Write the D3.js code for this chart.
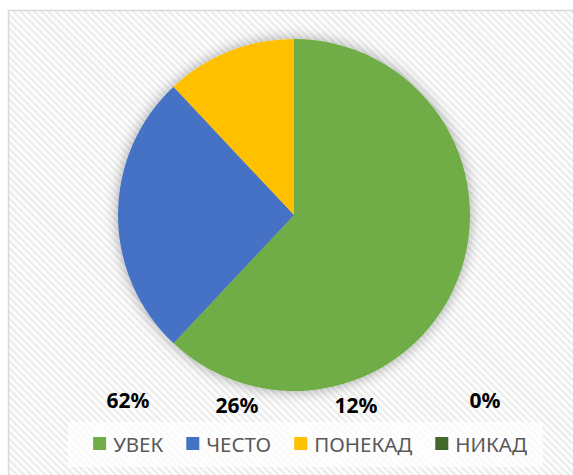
<!DOCTYPE html>
<html>
<head>
<meta charset="utf-8">
<script src="https://cdn.jsdelivr.net/npm/d3@7"></script>
<style>
  body { margin: 0; background: #fff; }
</style>
</head>
<body>
<svg id="pie_chart" width="573" height="475"></svg>
<script>
// data
const categories = ["УВЕК", "ЧЕСТО", "ПОНЕКАД", "НИКАД"];
const values = [62, 26, 12, 0];
const colors = ["#70ad47", "#4472c4", "#ffc000", "#43682b"];
// where the (hand placed) data labels sit
const labelX = [128, 237, 356, 485];
const labelY = [408, 413, 413, 408];

let svg = d3.select("#pie_chart");
let defs = svg.append("defs");

// light diagonal stripes of the chart area
let pat = defs.append("pattern").attr("id", "stripes")
  .attr("patternUnits", "userSpaceOnUse").attr("width", 5).attr("height", 5)
  .attr("patternTransform", "rotate(-45)");
pat.append("rect").attr("width", 5).attr("height", 5).attr("fill", "#ffffff");
pat.append("rect").attr("width", 2.5).attr("height", 5).attr("fill", "#ececec");

let glow = defs.append("filter").attr("id", "glow")
  .attr("x", "-20%").attr("y", "-20%").attr("width", "140%").attr("height", "140%");
glow.append("feGaussianBlur").attr("in", "SourceAlpha").attr("stdDeviation", 7).attr("result", "b");
glow.append("feComponentTransfer").attr("in", "b").attr("result", "s")
  .append("feFuncA").attr("type", "linear").attr("slope", 0.35);
let mg = glow.append("feMerge");
mg.append("feMergeNode").attr("in", "s");
mg.append("feMergeNode").attr("in", "SourceGraphic");

// chart area (cropped at right and bottom)
svg.append("rect").attr("x", 8.5).attr("y", 10.5).attr("width", 600).attr("height", 500)
  .attr("fill", "url(#stripes)").attr("stroke", "#d9d9d9").attr("stroke-width", 1.5);

let data = categories.map((c, i) => ({name: c, value: values[i], color: colors[i]}));
let pie = d3.pie().value(d => d.value).sort(null)(data);
let arcMkr = d3.arc().innerRadius(0).outerRadius(176);

let g = svg.append("g").attr("transform", "translate(294, 215)");
g.append("g").attr("filter", "url(#glow)")
  .selectAll("path").data(pie.filter(d => d.data.value > 0)).enter().append("path")
  .attr("d", arcMkr).attr("fill", d => d.data.color);

// data labels
svg.selectAll("text.lbl").data(pie).enter().append("text").attr("class", "lbl")
  .text(d => d3.format(".0%")(d.data.value / d3.sum(values)))
  .attr("x", (d, i) => labelX[i]).attr("y", (d, i) => labelY[i])
  .attr("font-family", "Noto Sans").attr("font-weight", "bold").attr("font-size", 21)
  .attr("text-anchor", "middle").attr("fill", "#000");

// legend
svg.append("rect").attr("x", 68).attr("y", 422).attr("width", 475).attr("height", 45)
  .attr("fill", "#fff").attr("opacity", 0.75);
let leg = svg.append("g");
let x = 0;
data.forEach(d => {
  let item = leg.append("g").attr("transform", `translate(${x},0)`);
  item.append("rect").attr("x", 0).attr("y", -7).attr("width", 13).attr("height", 13).attr("fill", d.color);
  let t = item.append("text").text(d.name).attr("x", 20).attr("y", 7.5)
    .attr("font-family", "Noto Sans").attr("font-size", 20.5).attr("fill", "#595959");
  x += 20 + t.node().getComputedTextLength() + 23;
});
let w = x - 23;
leg.attr("transform", `translate(${310 - w / 2}, 444)`);
</script>
</body>
</html>
